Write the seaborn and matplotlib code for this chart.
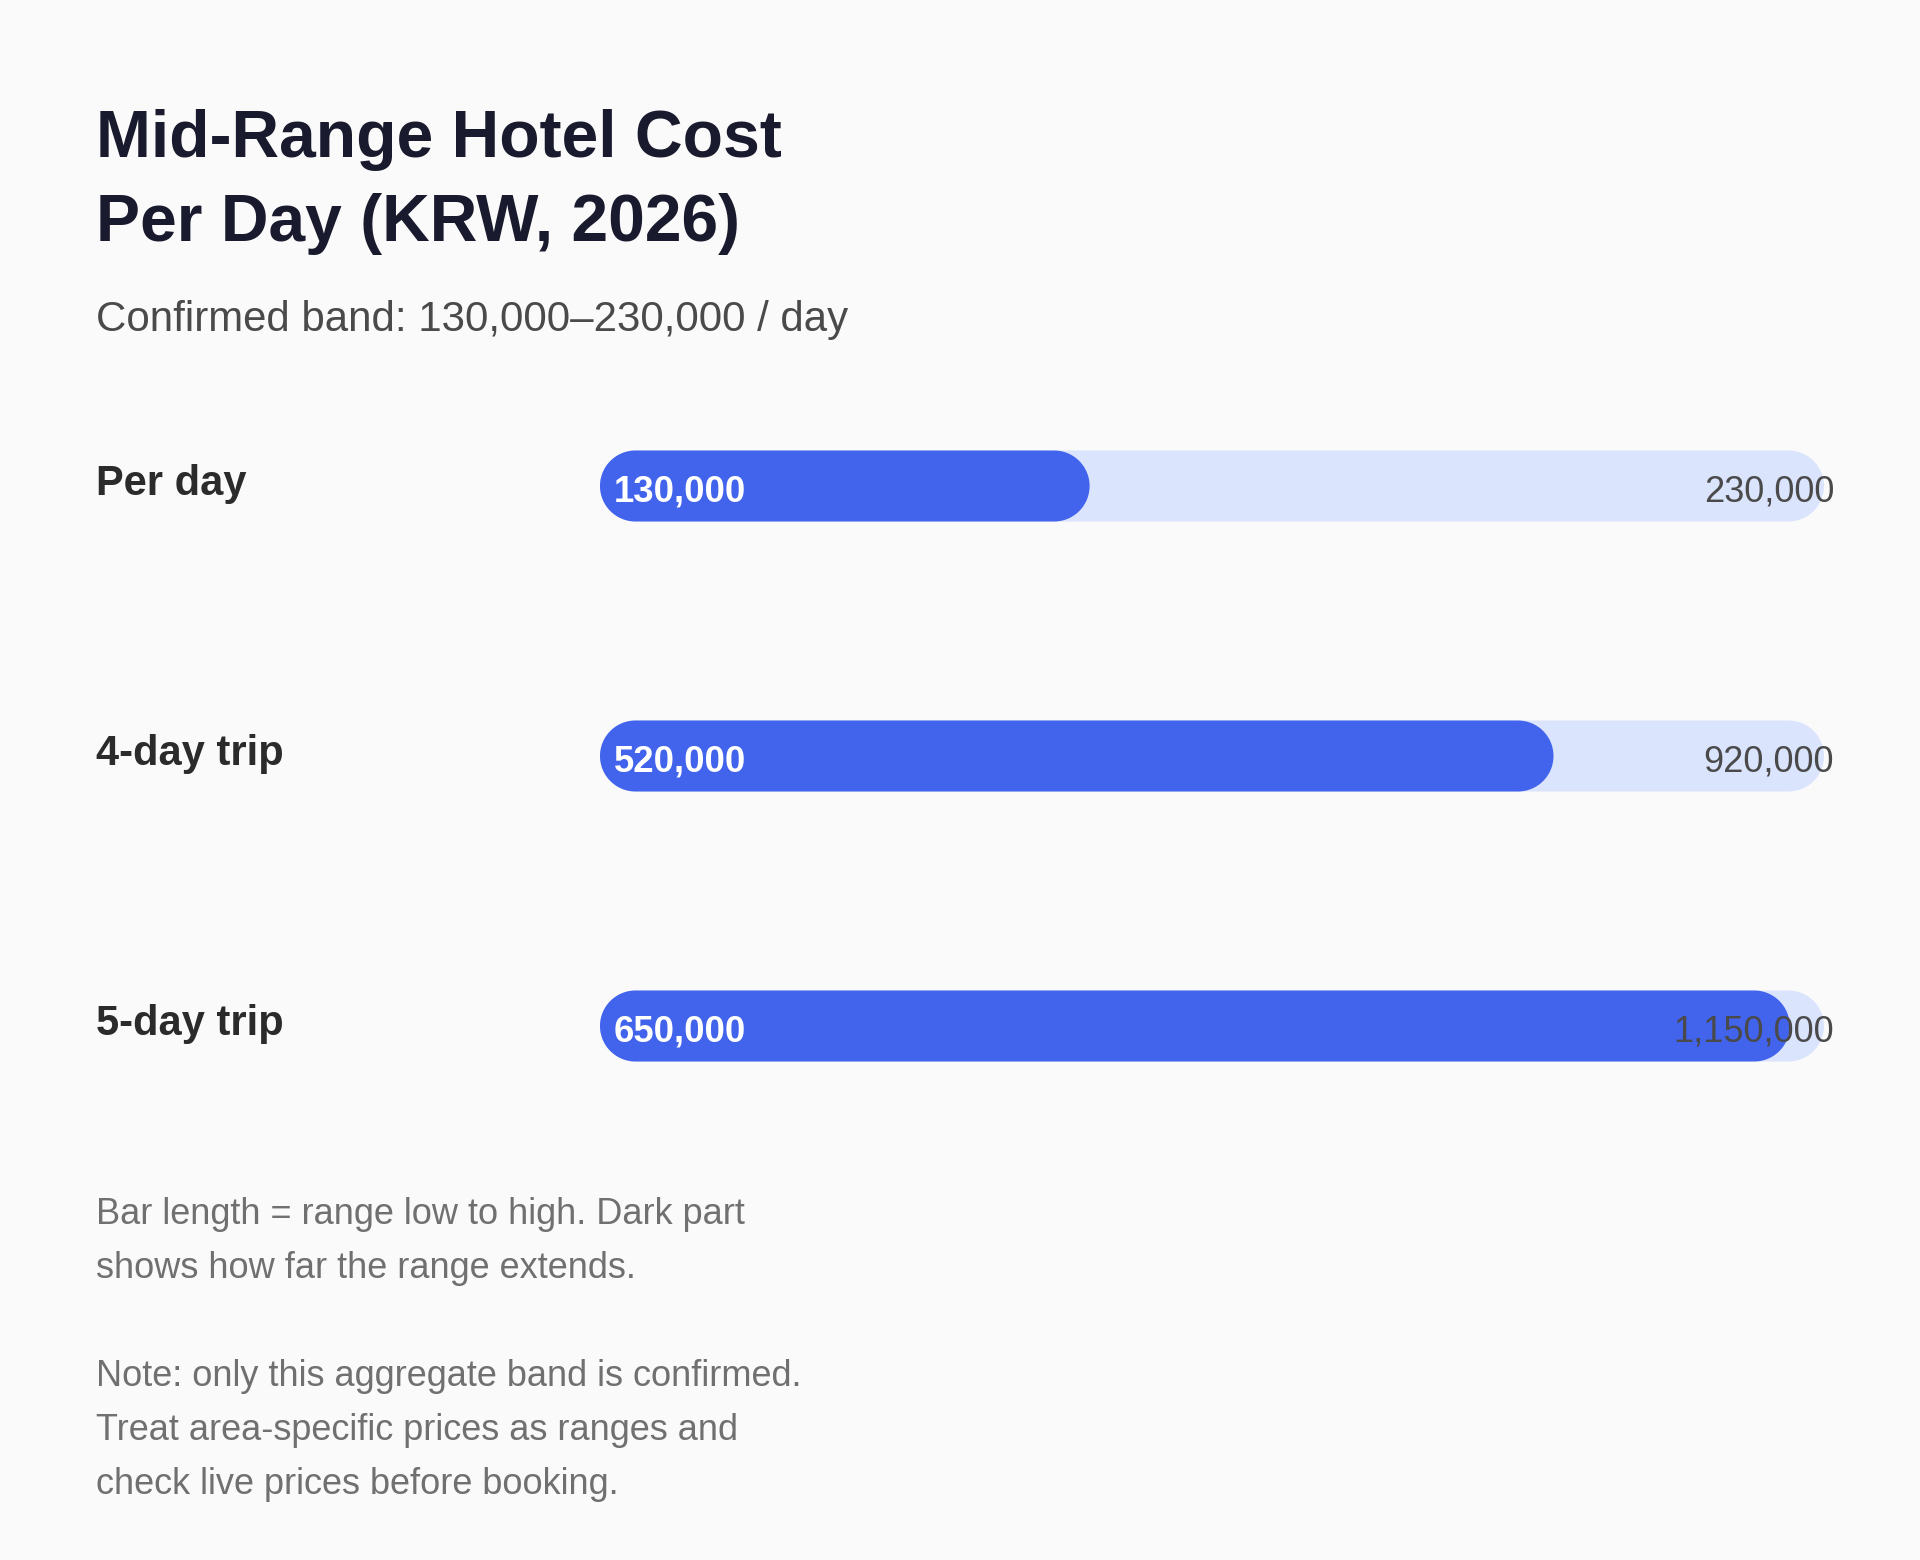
import numpy as np
import pandas as pd
import seaborn as sns
import matplotlib
from matplotlib import pyplot as plt
from matplotlib.patches import Polygon

matplotlib.use('Agg')

# data
rows = ['Per day', '4-day trip', '5-day trip']
low_krw = [130000, 520000, 650000]
high_krw = [230000, 920000, 1150000]
fill_pct = [40.0, 77.9, 97.2]   # how far the dark part reaches along the track
track_pct = [100, 100, 100]

title_lines = ['Mid-Range Hotel Cost', 'Per Day (KRW, 2026)']
subtitle = 'Confirmed band: 130,000\u2013230,000 / day'
note_lines = ['Bar length = range low to high. Dark part',
              'shows how far the range extends.',
              '',
              'Note: only this aggregate band is confirmed.',
              'Treat area-specific prices as ranges and',
              'check live prices before booking.']

BG = '#fafafa'
DARK = '#4263eb'
TRACK = '#dbe4fd'

sns.set_theme(style='white')
plt.rcParams['font.family'] = ['Liberation Sans', 'DejaVu Sans']

W, H = 1920, 1560
fig = plt.figure(figsize=(W / 100, H / 100), dpi=100, facecolor=BG)

# axes placed in pixel terms: track 600..1824 px, row centres 486/756/1026 px
ax_l, ax_w = 600, 1224
ax_top, ax_bot = 351, 1161
ax = fig.add_axes([ax_l / W, 1 - ax_bot / H, ax_w / W, (ax_bot - ax_top) / H])
ax.set_facecolor(BG)

df = pd.DataFrame({'row': rows, 'track': track_pct, 'fill': fill_pct})
bar_h = 71 / 270
sns.barplot(data=df, x='track', y='row', color=TRACK, width=bar_h,
            saturation=1, ax=ax)
sns.barplot(data=df, x='fill', y='row', color=DARK, width=bar_h,
            saturation=1, ax=ax)
ax.set_xlim(0, 100)
ax.set_ylim(2.5, -0.5)

# swap the square bars for pill shapes (semicircle ends)
px_x = ax_w / 100
px_y = (ax_bot - ax_top) / 3
t = np.linspace(-np.pi / 2, np.pi / 2, 60)
for p in list(ax.patches):
    x0, y0, w, h = p.get_x(), p.get_y(), p.get_width(), p.get_height()
    fc = p.get_facecolor()
    p.remove()
    ry = h / 2
    rx = ry * px_y / px_x
    yc = y0 + ry
    right = np.column_stack([x0 + w - rx + rx * np.cos(t), yc + ry * np.sin(t)])
    left = np.column_stack([x0 + rx - rx * np.cos(t), yc - ry * np.sin(t)])
    ax.add_patch(Polygon(np.vstack([right, left]), closed=True, fc=fc, ec='none'))

base_off = 15 / px_y
for i in range(len(rows)):
    ax.text(14 / px_x, i + base_off, f'{low_krw[i]:,}', color='white',
            fontsize=26.3, fontweight='bold', va='baseline', ha='left')
    ax.text(100 + 10 / px_x, i + base_off, f'{high_krw[i]:,}', color='#4a4a4a',
            fontsize=26, va='baseline', ha='right')
    ax.text(-(ax_l - 96) / px_x, i + 9 / px_y, rows[i], color='#2b2b2b',
            fontsize=30, fontweight='bold', va='baseline', ha='left')

ax.set_xlabel('')
ax.set_ylabel('')
ax.set_xticks([])
ax.set_yticks([])
sns.despine(ax=ax, left=True, bottom=True)


def ftext(x, y, s, **kw):
    fig.text(x / W, 1 - y / H, s, va='baseline', ha='left', **kw)


for k, line in enumerate(title_lines):
    ftext(96, 157 + 84 * k, line, fontsize=47.5, fontweight='bold', color='#1a1a2e')
ftext(96, 331, subtitle, fontsize=30.25, color='#4a4a4a')

for k, line in enumerate(note_lines):
    if line:
        ftext(96, 1224 + 54 * k, line, fontsize=26, color='#707070')

fig.savefig('out.png', dpi=100, facecolor=BG)
